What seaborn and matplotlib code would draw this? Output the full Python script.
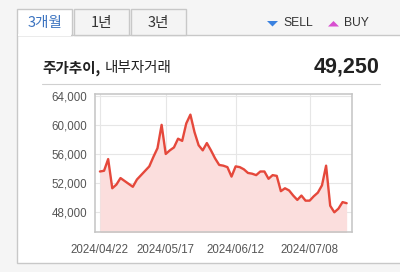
import matplotlib
matplotlib.use("Agg")
import matplotlib.pyplot as plt
import matplotlib.patches as mpatches
import seaborn as sns
import pandas as pd

# ---- data ----
dates = ["2024/04/22", "2024/05/17", "2024/06/12", "2024/07/08"]
date_idx = [0, 16, 33, 51]
prices = [53600, 53700, 55300, 51300, 51800, 52700, 52300, 51900, 51500, 52500,
          53100, 53700, 54300, 55600, 56800, 60000, 56000, 56500, 56900, 58100,
          57800, 60200, 61400, 59000, 57200, 56500, 57500, 56500, 55400, 54500,
          54400, 54200, 52900, 54300, 54200, 53900, 53400, 53300, 53100, 53600,
          53600, 52600, 53100, 53000, 50900, 51300, 51000, 50300, 49700, 50300,
          49600, 49600, 50200, 50700, 51700, 54400, 48900, 48000, 48500, 49400,
          49250]
y_ticks = [48000, 52000, 56000, 60000, 64000]
title_main = "주가추이,"
title_sub = "내부자거래"
last_price = "49,250"
tabs = ["3개월", "1년", "3년"]
legend_items = ["SELL", "BUY"]

df = pd.DataFrame({"idx": list(range(len(prices))), "price": prices})

sns.set_style("white")
plt.rcParams["font.family"] = ["Liberation Sans", "Noto Sans CJK KR", "DejaVu Sans"]

W, H = 400, 272
fig = plt.figure(figsize=(4.0, 2.72), dpi=100)
fig.patch.set_facecolor("#f5f5f5")

def fx(x):
    return x / W

def fy(y):
    return 1 - y / H

KR = ["Noto Sans CJK KR", "DejaVu Sans"]

# panel
fig.patches.append(mpatches.Rectangle((fx(17), fy(263)), fx(410) - fx(17), fy(35) - fy(263),
                                      transform=fig.transFigure, facecolor="white",
                                      edgecolor="#c8c8c8", linewidth=1.0, zorder=-3))
# tabs
tab_x = [(17, 72), (74, 129), (131, 186)]
for i, ((x0, x1), t) in enumerate(zip(tab_x, tabs)):
    sel = i == 0
    fig.patches.append(mpatches.Rectangle((fx(x0), fy(35)), fx(x1) - fx(x0),
                                          fy(9) - fy(35), transform=fig.transFigure,
                                          facecolor="white" if sel else "#f4f4f4",
                                          edgecolor="#c8c8c8", linewidth=1.0, zorder=-2))
    fig.text(fx((x0 + x1) / 2), fy(23), t, ha="center", va="center", fontsize=10.5,
             family=KR, color="#3b73c0" if sel else "#333333", zorder=3)
# cover panel border under selected tab
fig.patches.append(mpatches.Rectangle((fx(17.6), fy(36)), fx(71.4) - fx(17.6), fy(33.5) - fy(36),
                                      transform=fig.transFigure, facecolor="white",
                                      edgecolor="none", zorder=-1))

# legend
fig.patches.append(mpatches.Polygon([(fx(267), fy(21)), (fx(278), fy(21)), (fx(272.5), fy(26.5))],
                                    closed=True, transform=fig.transFigure,
                                    facecolor="#3b82e0", edgecolor="none", zorder=3))
fig.text(fx(283), fy(23), legend_items[0], ha="left", va="center", fontsize=8.7, color="#333333")
fig.patches.append(mpatches.Polygon([(fx(328), fy(26.5)), (fx(339), fy(26.5)), (fx(333.5), fy(21))],
                                    closed=True, transform=fig.transFigure,
                                    facecolor="#d84fd0", edgecolor="none", zorder=3))
fig.text(fx(344), fy(23), legend_items[1], ha="left", va="center", fontsize=8.7, color="#333333")

# title
t1 = fig.text(fx(42), fy(68), title_main, ha="left", va="center", fontsize=10.5,
              family=KR, fontweight="bold", color="#222222")
fig.canvas.draw()
bb = t1.get_window_extent()
fig.text(bb.x1 / fig.bbox.width + fx(4), fy(68), title_sub, ha="left", va="center",
         fontsize=10.5, family=KR, color="#222222")
fig.text(fx(380), fy(67), last_price, ha="right", va="center", fontsize=15.5,
         fontweight="bold", color="#222222")
fig.add_artist(plt.Line2D([fx(42), fx(380)], [fy(84), fy(84)], transform=fig.transFigure,
                          color="#d0d0d0", linewidth=0.8))

# chart
ax = fig.add_axes([fx(95), fy(232), fx(352) - fx(95), fy(94) - fy(232)])
ax.set_zorder(2)
ax.set_facecolor("white")
ax.fill_between(df["idx"], df["price"], 40000, color="#fbdedd", linewidth=0, zorder=1)
sns.lineplot(data=df, x="idx", y="price", ax=ax, color="#e5483b", linewidth=1.7, zorder=3)
ax.set_xlim(-1.2, 61.3)
ax.set_ylim(45300, 64230)
ax.set_xticks(date_idx)
ax.set_xticklabels(dates)
ax.set_yticks(y_ticks)
ax.set_yticklabels([f"{v:,}" for v in y_ticks])
ax.set_xlabel("")
ax.set_ylabel("")
ax.grid(True, color="#e6e6e6", linewidth=0.8, zorder=0)
ax.set_axisbelow(True)
for s in ax.spines.values():
    s.set_color("#c4c4c4")
    s.set_linewidth(1.1)
ax.tick_params(axis="y", length=4.5, width=0.8, color="#c4c4c4", pad=1,
               labelsize=8.3, labelcolor="#555555")
ax.tick_params(axis="x", length=3, width=0.8, color="#c4c4c4", pad=5.5,
               labelsize=8.3, labelcolor="#555555")

fig.savefig("out.png", dpi=100, facecolor=fig.get_facecolor())
